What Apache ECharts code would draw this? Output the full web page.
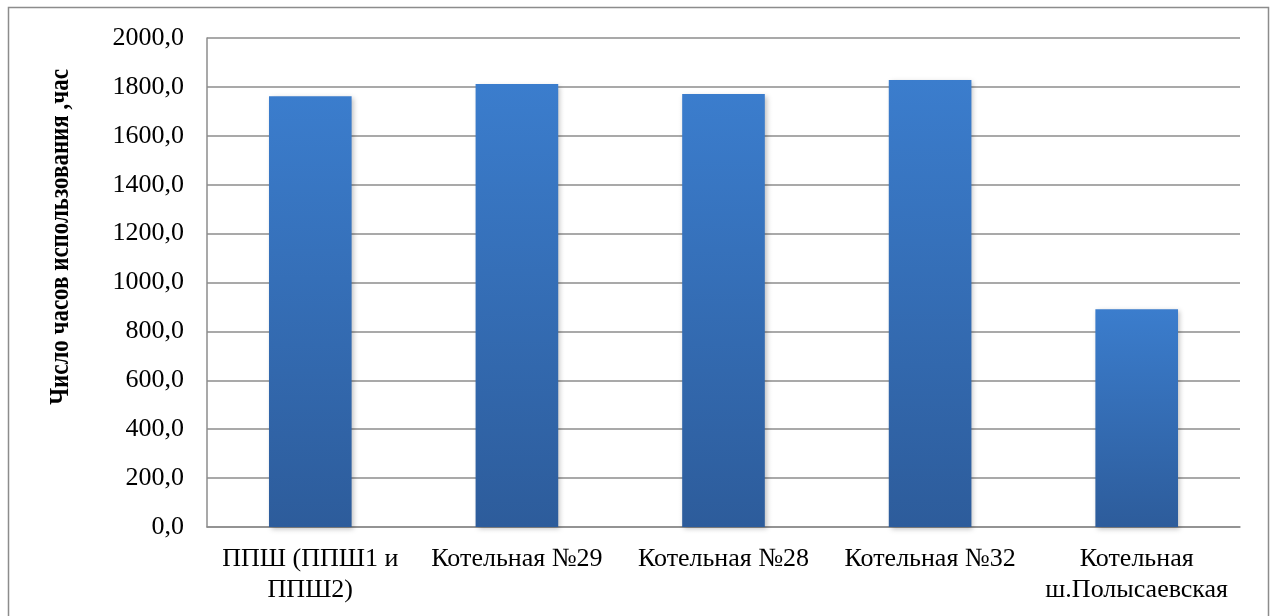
<!DOCTYPE html>
<html>
<head>
<meta charset="utf-8">
<script src="https://cdn.jsdelivr.net/npm/echarts@6/dist/echarts.min.js"></script>
<style>
  html, body { margin: 0; padding: 0; background: #fff; }
  #chart { width: 1276px; height: 616px; }
</style>
</head>
<body>
<div id="chart"></div>
<script>
// Boiler houses and their annual hours of use
const categories = [
  'ППШ (ППШ1 и\nППШ2)',
  'Котельная №29',
  'Котельная №28',
  'Котельная №32',
  'Котельная\nш.Полысаевская'
];
const hoursUsed = [1762, 1812, 1771, 1828, 891];
const yTicks = { min: 0, max: 2000, interval: 200 };
const yTitle = 'Число часов использования ,час';

const serif = '"Liberation Serif", "DejaVu Serif", serif';
const chart = echarts.init(document.getElementById('chart'), null, { renderer: 'canvas' });

chart.setOption({
  backgroundColor: '#ffffff',
  animation: false,
  grid: { left: 207, right: 36, top: 38, bottom: 89, containLabel: false },
  graphic: [
    {
      type: 'rect',
      shape: { x: 8.5, y: 7.5, width: 1260, height: 640 },
      style: { fill: 'none', stroke: '#8c8c8c', lineWidth: 1.5 },
      silent: true
    },
    {
      // condensed bold axis title, reading bottom to top
      type: 'text',
      x: 61,
      y: 237,
      rotation: Math.PI / 2,
      scaleX: 0.82,
      scaleY: 1,
      style: {
        text: yTitle,
        font: 'bold 28px ' + serif,
        fill: '#000',
        align: 'center',
        verticalAlign: 'middle'
      }
    }
  ],
  xAxis: {
    type: 'category',
    data: categories,
    axisLine: { show: true, lineStyle: { color: '#8c8c8c', width: 1.5 } },
    axisTick: { show: false },
    axisLabel: {
      interval: 0,
      margin: 17,
      color: '#000',
      fontFamily: serif,
      fontSize: 26,
      lineHeight: 31,
      align: 'center'
    },
    splitLine: { show: false }
  },
  yAxis: {
    type: 'value',
    min: yTicks.min,
    max: yTicks.max,
    interval: yTicks.interval,
    axisLine: { show: true, lineStyle: { color: '#8c8c8c', width: 1.5 } },
    axisTick: { show: false },
    axisLabel: {
      margin: 23,
      color: '#000',
      fontFamily: serif,
      fontSize: 26,
      formatter: v => v.toFixed(1).replace('.', ',')
    },
    splitLine: { show: true, lineStyle: { color: '#8c8c8c', width: 1.5 } }
  },
  series: [{
    type: 'bar',
    data: hoursUsed,
    barWidth: '40%',
    itemStyle: {
      color: new echarts.graphic.LinearGradient(0, 0, 0, 1, [
        { offset: 0, color: '#3b7dcd' },
        { offset: 1, color: '#2d5c9b' }
      ]),
      shadowColor: 'rgba(0,0,0,0.25)',
      shadowBlur: 5,
      shadowOffsetX: 2,
      shadowOffsetY: 2
    }
  }]
});
</script>
</body>
</html>
